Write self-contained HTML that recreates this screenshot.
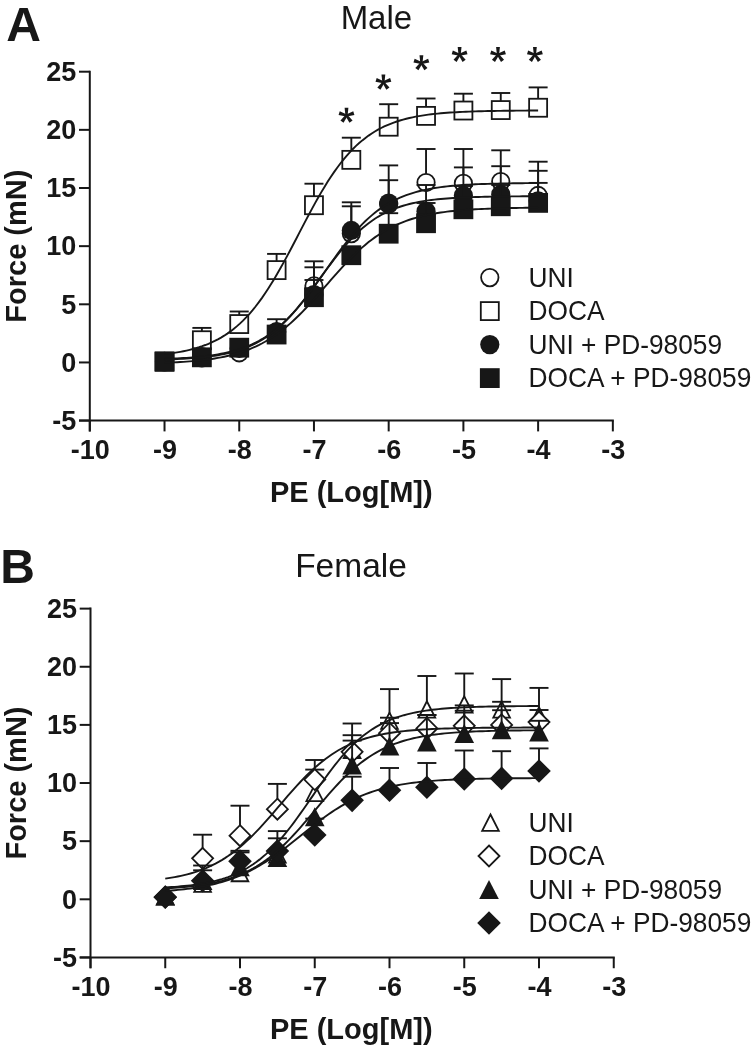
<!DOCTYPE html>
<html><head><meta charset="utf-8"><style>
html,body{margin:0;padding:0;background:#fff;}
body{width:753px;height:1050px;overflow:hidden;}
svg{display:block;filter:grayscale(1);}
text{font-family:"Liberation Sans",sans-serif;fill:#171717;}
.tk{font-size:27px;font-weight:bold;}
.ti{font-size:29px;font-weight:bold;}
.lg{font-size:27.5px;}
.tt{font-size:33px;}
.pl{font-size:48px;font-weight:bold;}
.st{font-size:44px;font-weight:bold;}
</style></head><body>
<svg width="753" height="1050" viewBox="0 0 753 1050">
<rect width="753" height="1050" fill="#fff"/>
<line x1="89.8" y1="70.7" x2="89.8" y2="431.4" stroke="#171717" stroke-width="2"/><line x1="79" y1="420.6" x2="613.84" y2="420.6" stroke="#171717" stroke-width="2"/><line x1="79" y1="420.6" x2="89.8" y2="420.6" stroke="#171717" stroke-width="2"/><text x="76.3" y="429.9" text-anchor="end" class="tk">-5</text><line x1="79" y1="362.45" x2="89.8" y2="362.45" stroke="#171717" stroke-width="2"/><text x="76.3" y="371.75" text-anchor="end" class="tk">0</text><line x1="79" y1="304.3" x2="89.8" y2="304.3" stroke="#171717" stroke-width="2"/><text x="76.3" y="313.6" text-anchor="end" class="tk">5</text><line x1="79" y1="246.15" x2="89.8" y2="246.15" stroke="#171717" stroke-width="2"/><text x="76.3" y="255.45" text-anchor="end" class="tk">10</text><line x1="79" y1="188" x2="89.8" y2="188" stroke="#171717" stroke-width="2"/><text x="76.3" y="197.3" text-anchor="end" class="tk">15</text><line x1="79" y1="129.85" x2="89.8" y2="129.85" stroke="#171717" stroke-width="2"/><text x="76.3" y="139.15" text-anchor="end" class="tk">20</text><line x1="79" y1="71.7" x2="89.8" y2="71.7" stroke="#171717" stroke-width="2"/><text x="76.3" y="81" text-anchor="end" class="tk">25</text><line x1="89.8" y1="420.6" x2="89.8" y2="431.4" stroke="#171717" stroke-width="2"/><text x="90.3" y="459.2" text-anchor="middle" class="tk">-10</text><line x1="164.52" y1="420.6" x2="164.52" y2="431.4" stroke="#171717" stroke-width="2"/><text x="165.02" y="459.2" text-anchor="middle" class="tk">-9</text><line x1="239.24" y1="420.6" x2="239.24" y2="431.4" stroke="#171717" stroke-width="2"/><text x="239.74" y="459.2" text-anchor="middle" class="tk">-8</text><line x1="313.96" y1="420.6" x2="313.96" y2="431.4" stroke="#171717" stroke-width="2"/><text x="314.46" y="459.2" text-anchor="middle" class="tk">-7</text><line x1="388.68" y1="420.6" x2="388.68" y2="431.4" stroke="#171717" stroke-width="2"/><text x="389.18" y="459.2" text-anchor="middle" class="tk">-6</text><line x1="463.4" y1="420.6" x2="463.4" y2="431.4" stroke="#171717" stroke-width="2"/><text x="463.9" y="459.2" text-anchor="middle" class="tk">-5</text><line x1="538.12" y1="420.6" x2="538.12" y2="431.4" stroke="#171717" stroke-width="2"/><text x="538.62" y="459.2" text-anchor="middle" class="tk">-4</text><line x1="612.84" y1="420.6" x2="612.84" y2="431.4" stroke="#171717" stroke-width="2"/><text x="613.34" y="459.2" text-anchor="middle" class="tk">-3</text><text transform="translate(26.2,246.15) rotate(-90)" text-anchor="middle" class="ti">Force (mN)</text><text x="351.3" y="502.2" text-anchor="middle" class="ti">PE (Log[M])</text><line x1="313.96" y1="285.92" x2="313.96" y2="261.3" stroke="#171717" stroke-width="1.9"/><line x1="304.46" y1="261.3" x2="323.46" y2="261.3" stroke="#171717" stroke-width="1.9"/><line x1="351.32" y1="233.59" x2="351.32" y2="202.3" stroke="#171717" stroke-width="1.9"/><line x1="341.82" y1="202.3" x2="360.82" y2="202.3" stroke="#171717" stroke-width="1.9"/><line x1="388.68" y1="204.28" x2="388.68" y2="165.4" stroke="#171717" stroke-width="1.9"/><line x1="379.18" y1="165.4" x2="398.18" y2="165.4" stroke="#171717" stroke-width="1.9"/><line x1="426.04" y1="182.53" x2="426.04" y2="149" stroke="#171717" stroke-width="1.9"/><line x1="416.54" y1="149" x2="435.54" y2="149" stroke="#171717" stroke-width="1.9"/><line x1="463.4" y1="183.35" x2="463.4" y2="149" stroke="#171717" stroke-width="1.9"/><line x1="453.9" y1="149" x2="472.9" y2="149" stroke="#171717" stroke-width="1.9"/><line x1="500.76" y1="181.6" x2="500.76" y2="150.3" stroke="#171717" stroke-width="1.9"/><line x1="491.26" y1="150.3" x2="510.26" y2="150.3" stroke="#171717" stroke-width="1.9"/><line x1="538.12" y1="195.44" x2="538.12" y2="161.7" stroke="#171717" stroke-width="1.9"/><line x1="528.62" y1="161.7" x2="547.62" y2="161.7" stroke="#171717" stroke-width="1.9"/><circle cx="164.52" cy="361.29" r="8.7" fill="#fff" stroke="#171717" stroke-width="1.8"/><circle cx="201.88" cy="357.8" r="8.7" fill="#fff" stroke="#171717" stroke-width="1.8"/><circle cx="239.24" cy="352.8" r="8.7" fill="#fff" stroke="#171717" stroke-width="1.8"/><circle cx="276.6" cy="332.21" r="8.7" fill="#fff" stroke="#171717" stroke-width="1.8"/><circle cx="313.96" cy="285.92" r="8.7" fill="#fff" stroke="#171717" stroke-width="1.8"/><circle cx="351.32" cy="233.59" r="8.7" fill="#fff" stroke="#171717" stroke-width="1.8"/><circle cx="388.68" cy="204.28" r="8.7" fill="#fff" stroke="#171717" stroke-width="1.8"/><circle cx="426.04" cy="182.53" r="8.7" fill="#fff" stroke="#171717" stroke-width="1.8"/><circle cx="463.4" cy="183.35" r="8.7" fill="#fff" stroke="#171717" stroke-width="1.8"/><circle cx="500.76" cy="181.6" r="8.7" fill="#fff" stroke="#171717" stroke-width="1.8"/><circle cx="538.12" cy="195.44" r="8.7" fill="#fff" stroke="#171717" stroke-width="1.8"/><line x1="201.88" y1="340.24" x2="201.88" y2="327.9" stroke="#171717" stroke-width="1.9"/><line x1="192.38" y1="327.9" x2="211.38" y2="327.9" stroke="#171717" stroke-width="1.9"/><line x1="239.24" y1="324.07" x2="239.24" y2="311.5" stroke="#171717" stroke-width="1.9"/><line x1="229.74" y1="311.5" x2="248.74" y2="311.5" stroke="#171717" stroke-width="1.9"/><line x1="276.6" y1="270.11" x2="276.6" y2="253.9" stroke="#171717" stroke-width="1.9"/><line x1="267.1" y1="253.9" x2="286.1" y2="253.9" stroke="#171717" stroke-width="1.9"/><line x1="313.96" y1="205.21" x2="313.96" y2="183.7" stroke="#171717" stroke-width="1.9"/><line x1="304.46" y1="183.7" x2="323.46" y2="183.7" stroke="#171717" stroke-width="1.9"/><line x1="351.32" y1="159.86" x2="351.32" y2="137.7" stroke="#171717" stroke-width="1.9"/><line x1="341.82" y1="137.7" x2="360.82" y2="137.7" stroke="#171717" stroke-width="1.9"/><line x1="388.68" y1="126.71" x2="388.68" y2="104.2" stroke="#171717" stroke-width="1.9"/><line x1="379.18" y1="104.2" x2="398.18" y2="104.2" stroke="#171717" stroke-width="1.9"/><line x1="426.04" y1="115.89" x2="426.04" y2="98.5" stroke="#171717" stroke-width="1.9"/><line x1="416.54" y1="98.5" x2="435.54" y2="98.5" stroke="#171717" stroke-width="1.9"/><line x1="463.4" y1="110.54" x2="463.4" y2="93.7" stroke="#171717" stroke-width="1.9"/><line x1="453.9" y1="93.7" x2="472.9" y2="93.7" stroke="#171717" stroke-width="1.9"/><line x1="500.76" y1="110.08" x2="500.76" y2="93" stroke="#171717" stroke-width="1.9"/><line x1="491.26" y1="93" x2="510.26" y2="93" stroke="#171717" stroke-width="1.9"/><line x1="538.12" y1="107.75" x2="538.12" y2="87.4" stroke="#171717" stroke-width="1.9"/><line x1="528.62" y1="87.4" x2="547.62" y2="87.4" stroke="#171717" stroke-width="1.9"/><rect x="155.52" y="352.29" width="18" height="18" fill="#fff" stroke="#171717" stroke-width="1.8"/><rect x="192.88" y="331.24" width="18" height="18" fill="#fff" stroke="#171717" stroke-width="1.8"/><rect x="230.24" y="315.07" width="18" height="18" fill="#fff" stroke="#171717" stroke-width="1.8"/><rect x="267.6" y="261.11" width="18" height="18" fill="#fff" stroke="#171717" stroke-width="1.8"/><rect x="304.96" y="196.21" width="18" height="18" fill="#fff" stroke="#171717" stroke-width="1.8"/><rect x="342.32" y="150.86" width="18" height="18" fill="#fff" stroke="#171717" stroke-width="1.8"/><rect x="379.68" y="117.71" width="18" height="18" fill="#fff" stroke="#171717" stroke-width="1.8"/><rect x="417.04" y="106.89" width="18" height="18" fill="#fff" stroke="#171717" stroke-width="1.8"/><rect x="454.4" y="101.54" width="18" height="18" fill="#fff" stroke="#171717" stroke-width="1.8"/><rect x="491.76" y="101.08" width="18" height="18" fill="#fff" stroke="#171717" stroke-width="1.8"/><rect x="529.12" y="98.75" width="18" height="18" fill="#fff" stroke="#171717" stroke-width="1.8"/><line x1="276.6" y1="331.63" x2="276.6" y2="319.2" stroke="#171717" stroke-width="1.9"/><line x1="267.1" y1="319.2" x2="286.1" y2="319.2" stroke="#171717" stroke-width="1.9"/><line x1="313.96" y1="294.65" x2="313.96" y2="267.3" stroke="#171717" stroke-width="1.9"/><line x1="304.46" y1="267.3" x2="323.46" y2="267.3" stroke="#171717" stroke-width="1.9"/><line x1="351.32" y1="230.45" x2="351.32" y2="206.3" stroke="#171717" stroke-width="1.9"/><line x1="341.82" y1="206.3" x2="360.82" y2="206.3" stroke="#171717" stroke-width="1.9"/><line x1="388.68" y1="203" x2="388.68" y2="180.2" stroke="#171717" stroke-width="1.9"/><line x1="379.18" y1="180.2" x2="398.18" y2="180.2" stroke="#171717" stroke-width="1.9"/><line x1="426.04" y1="211.26" x2="426.04" y2="185" stroke="#171717" stroke-width="1.9"/><line x1="416.54" y1="185" x2="435.54" y2="185" stroke="#171717" stroke-width="1.9"/><line x1="463.4" y1="195.44" x2="463.4" y2="167.4" stroke="#171717" stroke-width="1.9"/><line x1="453.9" y1="167.4" x2="472.9" y2="167.4" stroke="#171717" stroke-width="1.9"/><line x1="500.76" y1="194.4" x2="500.76" y2="166.2" stroke="#171717" stroke-width="1.9"/><line x1="491.26" y1="166.2" x2="510.26" y2="166.2" stroke="#171717" stroke-width="1.9"/><line x1="538.12" y1="200.79" x2="538.12" y2="170.8" stroke="#171717" stroke-width="1.9"/><line x1="528.62" y1="170.8" x2="547.62" y2="170.8" stroke="#171717" stroke-width="1.9"/><circle cx="164.52" cy="361.87" r="9.6" fill="#171717"/><circle cx="201.88" cy="356.63" r="9.6" fill="#171717"/><circle cx="239.24" cy="348.49" r="9.6" fill="#171717"/><circle cx="276.6" cy="331.63" r="9.6" fill="#171717"/><circle cx="313.96" cy="294.65" r="9.6" fill="#171717"/><circle cx="351.32" cy="230.45" r="9.6" fill="#171717"/><circle cx="388.68" cy="203" r="9.6" fill="#171717"/><circle cx="426.04" cy="211.26" r="9.6" fill="#171717"/><circle cx="463.4" cy="195.44" r="9.6" fill="#171717"/><circle cx="500.76" cy="194.4" r="9.6" fill="#171717"/><circle cx="538.12" cy="200.79" r="9.6" fill="#171717"/><line x1="313.96" y1="297.21" x2="313.96" y2="280" stroke="#171717" stroke-width="1.9"/><line x1="304.46" y1="280" x2="323.46" y2="280" stroke="#171717" stroke-width="1.9"/><line x1="388.68" y1="233.71" x2="388.68" y2="213.2" stroke="#171717" stroke-width="1.9"/><line x1="379.18" y1="213.2" x2="398.18" y2="213.2" stroke="#171717" stroke-width="1.9"/><line x1="426.04" y1="223.24" x2="426.04" y2="203" stroke="#171717" stroke-width="1.9"/><line x1="416.54" y1="203" x2="435.54" y2="203" stroke="#171717" stroke-width="1.9"/><line x1="463.4" y1="209.28" x2="463.4" y2="186" stroke="#171717" stroke-width="1.9"/><line x1="453.9" y1="186" x2="472.9" y2="186" stroke="#171717" stroke-width="1.9"/><line x1="500.76" y1="206.26" x2="500.76" y2="185" stroke="#171717" stroke-width="1.9"/><line x1="491.26" y1="185" x2="510.26" y2="185" stroke="#171717" stroke-width="1.9"/><line x1="538.12" y1="202.89" x2="538.12" y2="182.9" stroke="#171717" stroke-width="1.9"/><line x1="528.62" y1="182.9" x2="547.62" y2="182.9" stroke="#171717" stroke-width="1.9"/><rect x="154.62" y="351.97" width="19.8" height="19.8" fill="#171717"/><rect x="191.98" y="347.43" width="19.8" height="19.8" fill="#171717"/><rect x="229.34" y="337.78" width="19.8" height="19.8" fill="#171717"/><rect x="266.7" y="324.64" width="19.8" height="19.8" fill="#171717"/><rect x="304.06" y="287.31" width="19.8" height="19.8" fill="#171717"/><rect x="341.42" y="245.32" width="19.8" height="19.8" fill="#171717"/><rect x="378.78" y="223.81" width="19.8" height="19.8" fill="#171717"/><rect x="416.14" y="213.34" width="19.8" height="19.8" fill="#171717"/><rect x="453.5" y="199.38" width="19.8" height="19.8" fill="#171717"/><rect x="490.86" y="196.36" width="19.8" height="19.8" fill="#171717"/><rect x="528.22" y="192.99" width="19.8" height="19.8" fill="#171717"/><path d="M164.52,358.92 L167.66,358.81 L170.8,358.69 L173.94,358.56 L177.08,358.41 L180.22,358.25 L183.36,358.07 L186.5,357.87 L189.64,357.65 L192.78,357.41 L195.91,357.15 L199.05,356.86 L202.19,356.54 L205.33,356.18 L208.47,355.79 L211.61,355.36 L214.75,354.89 L217.89,354.37 L221.03,353.8 L224.17,353.18 L227.31,352.49 L230.45,351.74 L233.59,350.92 L236.73,350.02 L239.87,349.03 L243.01,347.95 L246.15,346.78 L249.29,345.5 L252.43,344.11 L255.57,342.61 L258.7,340.97 L261.84,339.2 L264.98,337.29 L268.12,335.23 L271.26,333.02 L274.4,330.65 L277.54,328.11 L280.68,325.4 L283.82,322.53 L286.96,319.48 L290.1,316.26 L293.24,312.87 L296.38,309.32 L299.52,305.62 L302.66,301.77 L305.8,297.78 L308.94,293.68 L312.08,289.47 L315.22,285.17 L318.36,280.8 L321.49,276.39 L324.63,271.96 L327.77,267.52 L330.91,263.1 L334.05,258.72 L337.19,254.4 L340.33,250.17 L343.47,246.03 L346.61,242.02 L349.75,238.13 L352.89,234.39 L356.03,230.8 L359.17,227.38 L362.31,224.12 L365.45,221.03 L368.59,218.11 L371.73,215.36 L374.87,212.78 L378.01,210.37 L381.15,208.12 L384.28,206.02 L387.42,204.08 L390.56,202.27 L393.7,200.61 L396.84,199.07 L399.98,197.65 L403.12,196.35 L406.26,195.15 L409.4,194.05 L412.54,193.04 L415.68,192.12 L418.82,191.28 L421.96,190.51 L425.1,189.81 L428.24,189.17 L431.38,188.59 L434.52,188.06 L437.66,187.57 L440.8,187.13 L443.94,186.73 L447.07,186.37 L450.21,186.04 L453.35,185.74 L456.49,185.47 L459.63,185.23 L462.77,185 L465.91,184.8 L469.05,184.62 L472.19,184.45 L475.33,184.3 L478.47,184.16 L481.61,184.04 L484.75,183.93 L487.89,183.83 L491.03,183.73 L494.17,183.65 L497.31,183.58 L500.45,183.51 L503.59,183.45 L506.73,183.39 L509.86,183.34 L513,183.29 L516.14,183.25 L519.28,183.22 L522.42,183.18 L525.56,183.15 L528.7,183.12 L531.84,183.1 L534.98,183.08 L538.12,183.05" fill="none" stroke="#171717" stroke-width="1.9"/><path d="M164.52,354.13 L167.66,353.76 L170.8,353.34 L173.94,352.88 L177.08,352.38 L180.22,351.83 L183.36,351.22 L186.5,350.56 L189.64,349.83 L192.78,349.03 L195.91,348.16 L199.05,347.2 L202.19,346.15 L205.33,345.01 L208.47,343.77 L211.61,342.41 L214.75,340.93 L217.89,339.32 L221.03,337.57 L224.17,335.67 L227.31,333.61 L230.45,331.39 L233.59,328.99 L236.73,326.4 L239.87,323.62 L243.01,320.63 L246.15,317.43 L249.29,314.02 L252.43,310.38 L255.57,306.52 L258.7,302.43 L261.84,298.11 L264.98,293.57 L268.12,288.82 L271.26,283.85 L274.4,278.69 L277.54,273.34 L280.68,267.82 L283.82,262.15 L286.96,256.36 L290.1,250.46 L293.24,244.49 L296.38,238.47 L299.52,232.43 L302.66,226.4 L305.8,220.4 L308.94,214.47 L312.08,208.63 L315.22,202.9 L318.36,197.32 L321.49,191.89 L324.63,186.64 L327.77,181.59 L330.91,176.74 L334.05,172.11 L337.19,167.69 L340.33,163.5 L343.47,159.54 L346.61,155.81 L349.75,152.29 L352.89,149 L356.03,145.92 L359.17,143.05 L362.31,140.38 L365.45,137.9 L368.59,135.6 L371.73,133.47 L374.87,131.5 L378.01,129.69 L381.15,128.02 L384.28,126.48 L387.42,125.07 L390.56,123.78 L393.7,122.59 L396.84,121.51 L399.98,120.51 L403.12,119.6 L406.26,118.77 L409.4,118.02 L412.54,117.32 L415.68,116.69 L418.82,116.12 L421.96,115.59 L425.1,115.12 L428.24,114.68 L431.38,114.29 L434.52,113.93 L437.66,113.6 L440.8,113.3 L443.94,113.03 L447.07,112.79 L450.21,112.56 L453.35,112.36 L456.49,112.18 L459.63,112.01 L462.77,111.86 L465.91,111.72 L469.05,111.59 L472.19,111.48 L475.33,111.38 L478.47,111.28 L481.61,111.2 L484.75,111.12 L487.89,111.05 L491.03,110.99 L494.17,110.93 L497.31,110.88 L500.45,110.83 L503.59,110.79 L506.73,110.75 L509.86,110.71 L513,110.68 L516.14,110.65 L519.28,110.62 L522.42,110.6 L525.56,110.58 L528.7,110.56 L531.84,110.54 L534.98,110.52 L538.12,110.51" fill="none" stroke="#171717" stroke-width="1.9"/><path d="M164.52,359.5 L167.66,359.41 L170.8,359.3 L173.94,359.18 L177.08,359.04 L180.22,358.89 L183.36,358.73 L186.5,358.54 L189.64,358.34 L192.78,358.11 L195.91,357.86 L199.05,357.59 L202.19,357.28 L205.33,356.94 L208.47,356.57 L211.61,356.16 L214.75,355.7 L217.89,355.19 L221.03,354.64 L224.17,354.02 L227.31,353.35 L230.45,352.6 L233.59,351.79 L236.73,350.89 L239.87,349.9 L243.01,348.82 L246.15,347.64 L249.29,346.35 L252.43,344.94 L255.57,343.4 L258.7,341.73 L261.84,339.92 L264.98,337.96 L268.12,335.85 L271.26,333.58 L274.4,331.14 L277.54,328.52 L280.68,325.74 L283.82,322.78 L286.96,319.65 L290.1,316.34 L293.24,312.88 L296.38,309.25 L299.52,305.48 L302.66,301.58 L305.8,297.56 L308.94,293.43 L312.08,289.23 L315.22,284.97 L318.36,280.67 L321.49,276.36 L324.63,272.06 L327.77,267.79 L330.91,263.58 L334.05,259.44 L337.19,255.41 L340.33,251.49 L343.47,247.7 L346.61,244.06 L349.75,240.58 L352.89,237.25 L356.03,234.1 L359.17,231.12 L362.31,228.32 L365.45,225.68 L368.59,223.22 L371.73,220.93 L374.87,218.8 L378.01,216.82 L381.15,214.99 L384.28,213.31 L387.42,211.76 L390.56,210.33 L393.7,209.03 L396.84,207.83 L399.98,206.74 L403.12,205.74 L406.26,204.84 L409.4,204.01 L412.54,203.26 L415.68,202.57 L418.82,201.95 L421.96,201.39 L425.1,200.88 L428.24,200.42 L431.38,200 L434.52,199.62 L437.66,199.28 L440.8,198.97 L443.94,198.69 L447.07,198.44 L450.21,198.21 L453.35,198 L456.49,197.82 L459.63,197.65 L462.77,197.5 L465.91,197.36 L469.05,197.24 L472.19,197.13 L475.33,197.03 L478.47,196.94 L481.61,196.86 L484.75,196.78 L487.89,196.72 L491.03,196.66 L494.17,196.6 L497.31,196.56 L500.45,196.51 L503.59,196.47 L506.73,196.44 L509.86,196.41 L513,196.38 L516.14,196.35 L519.28,196.33 L522.42,196.31 L525.56,196.29 L528.7,196.27 L531.84,196.26 L534.98,196.24 L538.12,196.23" fill="none" stroke="#171717" stroke-width="1.9"/><path d="M164.52,362.85 L167.66,362.72 L170.8,362.58 L173.94,362.42 L177.08,362.25 L180.22,362.07 L183.36,361.86 L186.5,361.64 L189.64,361.4 L192.78,361.13 L195.91,360.84 L199.05,360.52 L202.19,360.18 L205.33,359.8 L208.47,359.39 L211.61,358.94 L214.75,358.45 L217.89,357.92 L221.03,357.33 L224.17,356.7 L227.31,356.01 L230.45,355.27 L233.59,354.46 L236.73,353.58 L239.87,352.63 L243.01,351.6 L246.15,350.49 L249.29,349.28 L252.43,347.99 L255.57,346.6 L258.7,345.1 L261.84,343.5 L264.98,341.78 L268.12,339.95 L271.26,337.99 L274.4,335.91 L277.54,333.71 L280.68,331.38 L283.82,328.92 L286.96,326.33 L290.1,323.61 L293.24,320.77 L296.38,317.81 L299.52,314.73 L302.66,311.55 L305.8,308.28 L308.94,304.91 L312.08,301.47 L315.22,297.96 L318.36,294.4 L321.49,290.81 L324.63,287.19 L327.77,283.57 L330.91,279.96 L334.05,276.38 L337.19,272.83 L340.33,269.33 L343.47,265.91 L346.61,262.56 L349.75,259.3 L352.89,256.15 L356.03,253.1 L359.17,250.16 L362.31,247.35 L365.45,244.66 L368.59,242.1 L371.73,239.67 L374.87,237.36 L378.01,235.19 L381.15,233.13 L384.28,231.21 L387.42,229.4 L390.56,227.71 L393.7,226.13 L396.84,224.66 L399.98,223.29 L403.12,222.01 L406.26,220.83 L409.4,219.74 L412.54,218.73 L415.68,217.79 L418.82,216.93 L421.96,216.13 L425.1,215.4 L428.24,214.73 L431.38,214.1 L434.52,213.53 L437.66,213.01 L440.8,212.53 L443.94,212.09 L447.07,211.68 L450.21,211.31 L453.35,210.97 L456.49,210.66 L459.63,210.38 L462.77,210.12 L465.91,209.88 L469.05,209.66 L472.19,209.46 L475.33,209.28 L478.47,209.12 L481.61,208.96 L484.75,208.83 L487.89,208.7 L491.03,208.58 L494.17,208.48 L497.31,208.38 L500.45,208.29 L503.59,208.21 L506.73,208.14 L509.86,208.07 L513,208.01 L516.14,207.96 L519.28,207.91 L522.42,207.86 L525.56,207.82 L528.7,207.78 L531.84,207.74 L534.98,207.71 L538.12,207.68" fill="none" stroke="#171717" stroke-width="1.9"/><polygon points="347.6,115.5 348.4,107.8 344.6,107.8 345.4,115.5" fill="#171717"/><polygon points="346.84,116.55 354.41,114.93 353.24,111.31 346.16,114.45" fill="#171717"/><polygon points="345.61,116.15 349.49,122.85 352.56,120.61 347.39,114.85" fill="#171717"/><polygon points="345.61,114.85 340.44,120.61 343.51,122.85 347.39,116.15" fill="#171717"/><polygon points="346.84,114.45 339.76,111.31 338.59,114.93 346.16,116.55" fill="#171717"/><circle cx="346.5" cy="115.5" r="1.3" fill="#171717"/><polygon points="384.5,82.3 385.3,74.6 381.5,74.6 382.3,82.3" fill="#171717"/><polygon points="383.74,83.35 391.31,81.73 390.14,78.11 383.06,81.25" fill="#171717"/><polygon points="382.51,82.95 386.39,89.65 389.46,87.41 384.29,81.65" fill="#171717"/><polygon points="382.51,81.65 377.34,87.41 380.41,89.65 384.29,82.95" fill="#171717"/><polygon points="383.74,81.25 376.66,78.11 375.49,81.73 383.06,83.35" fill="#171717"/><circle cx="383.4" cy="82.3" r="1.3" fill="#171717"/><polygon points="422.5,63 423.3,55.3 419.5,55.3 420.3,63" fill="#171717"/><polygon points="421.74,64.05 429.31,62.43 428.14,58.81 421.06,61.95" fill="#171717"/><polygon points="420.51,63.65 424.39,70.35 427.46,68.11 422.29,62.35" fill="#171717"/><polygon points="420.51,62.35 415.34,68.11 418.41,70.35 422.29,63.65" fill="#171717"/><polygon points="421.74,61.95 414.66,58.81 413.49,62.43 421.06,64.05" fill="#171717"/><circle cx="421.4" cy="63" r="1.3" fill="#171717"/><polygon points="460.7,54.7 461.5,47 457.7,47 458.5,54.7" fill="#171717"/><polygon points="459.94,55.75 467.51,54.13 466.34,50.51 459.26,53.65" fill="#171717"/><polygon points="458.71,55.35 462.59,62.05 465.66,59.81 460.49,54.05" fill="#171717"/><polygon points="458.71,54.05 453.54,59.81 456.61,62.05 460.49,55.35" fill="#171717"/><polygon points="459.94,53.65 452.86,50.51 451.69,54.13 459.26,55.75" fill="#171717"/><circle cx="459.6" cy="54.7" r="1.3" fill="#171717"/><polygon points="499.1,54.7 499.9,47 496.1,47 496.9,54.7" fill="#171717"/><polygon points="498.34,55.75 505.91,54.13 504.74,50.51 497.66,53.65" fill="#171717"/><polygon points="497.11,55.35 500.99,62.05 504.06,59.81 498.89,54.05" fill="#171717"/><polygon points="497.11,54.05 491.94,59.81 495.01,62.05 498.89,55.35" fill="#171717"/><polygon points="498.34,53.65 491.26,50.51 490.09,54.13 497.66,55.75" fill="#171717"/><circle cx="498" cy="54.7" r="1.3" fill="#171717"/><polygon points="536,54.7 536.8,47 533,47 533.8,54.7" fill="#171717"/><polygon points="535.24,55.75 542.81,54.13 541.64,50.51 534.56,53.65" fill="#171717"/><polygon points="534.01,55.35 537.89,62.05 540.96,59.81 535.79,54.05" fill="#171717"/><polygon points="534.01,54.05 528.84,59.81 531.91,62.05 535.79,55.35" fill="#171717"/><polygon points="535.24,53.65 528.16,50.51 526.99,54.13 534.56,55.75" fill="#171717"/><circle cx="534.9" cy="54.7" r="1.3" fill="#171717"/><circle cx="489.8" cy="277.6" r="8.7" fill="#fff" stroke="#171717" stroke-width="1.8"/><text transform="translate(528.5,286.9) scale(0.956,1)" class="lg">UNI</text><rect x="480.8" y="302.1" width="18" height="18" fill="#fff" stroke="#171717" stroke-width="1.8"/><text transform="translate(528.5,320.4) scale(0.956,1)" class="lg">DOCA</text><circle cx="489.8" cy="344.6" r="9.6" fill="#171717"/><text transform="translate(528.5,353.9) scale(0.956,1)" class="lg">UNI + PD-98059</text><rect x="479.9" y="368.2" width="19.8" height="19.8" fill="#171717"/><text transform="translate(528.5,387.4) scale(0.956,1)" class="lg">DOCA + PD-98059</text><text x="6.2" y="40.8" class="pl">A</text><text x="376.4" y="28.8" text-anchor="middle" class="tt">Male</text><line x1="90.5" y1="607.62" x2="90.5" y2="968.23" stroke="#171717" stroke-width="2"/><line x1="79.7" y1="957.43" x2="614.75" y2="957.43" stroke="#171717" stroke-width="2"/><line x1="79.7" y1="957.43" x2="90.5" y2="957.43" stroke="#171717" stroke-width="2"/><text x="77" y="966.73" text-anchor="end" class="tk">-5</text><line x1="79.7" y1="899.3" x2="90.5" y2="899.3" stroke="#171717" stroke-width="2"/><text x="77" y="908.6" text-anchor="end" class="tk">0</text><line x1="79.7" y1="841.16" x2="90.5" y2="841.16" stroke="#171717" stroke-width="2"/><text x="77" y="850.46" text-anchor="end" class="tk">5</text><line x1="79.7" y1="783.03" x2="90.5" y2="783.03" stroke="#171717" stroke-width="2"/><text x="77" y="792.33" text-anchor="end" class="tk">10</text><line x1="79.7" y1="724.89" x2="90.5" y2="724.89" stroke="#171717" stroke-width="2"/><text x="77" y="734.19" text-anchor="end" class="tk">15</text><line x1="79.7" y1="666.76" x2="90.5" y2="666.76" stroke="#171717" stroke-width="2"/><text x="77" y="676.06" text-anchor="end" class="tk">20</text><line x1="79.7" y1="608.62" x2="90.5" y2="608.62" stroke="#171717" stroke-width="2"/><text x="77" y="617.92" text-anchor="end" class="tk">25</text><line x1="90.5" y1="957.43" x2="90.5" y2="968.23" stroke="#171717" stroke-width="2"/><text x="91" y="996.03" text-anchor="middle" class="tk">-10</text><line x1="165.25" y1="957.43" x2="165.25" y2="968.23" stroke="#171717" stroke-width="2"/><text x="165.75" y="996.03" text-anchor="middle" class="tk">-9</text><line x1="240" y1="957.43" x2="240" y2="968.23" stroke="#171717" stroke-width="2"/><text x="240.5" y="996.03" text-anchor="middle" class="tk">-8</text><line x1="314.75" y1="957.43" x2="314.75" y2="968.23" stroke="#171717" stroke-width="2"/><text x="315.25" y="996.03" text-anchor="middle" class="tk">-7</text><line x1="389.5" y1="957.43" x2="389.5" y2="968.23" stroke="#171717" stroke-width="2"/><text x="390" y="996.03" text-anchor="middle" class="tk">-6</text><line x1="464.25" y1="957.43" x2="464.25" y2="968.23" stroke="#171717" stroke-width="2"/><text x="464.75" y="996.03" text-anchor="middle" class="tk">-5</text><line x1="539" y1="957.43" x2="539" y2="968.23" stroke="#171717" stroke-width="2"/><text x="539.5" y="996.03" text-anchor="middle" class="tk">-4</text><line x1="613.75" y1="957.43" x2="613.75" y2="968.23" stroke="#171717" stroke-width="2"/><text x="614.25" y="996.03" text-anchor="middle" class="tk">-3</text><text transform="translate(26.2,783.03) rotate(-90)" text-anchor="middle" class="ti">Force (mN)</text><text x="351.3" y="1039.03" text-anchor="middle" class="ti">PE (Log[M])</text><line x1="314.75" y1="792.33" x2="314.75" y2="760" stroke="#171717" stroke-width="1.9"/><line x1="305.25" y1="760" x2="324.25" y2="760" stroke="#171717" stroke-width="1.9"/><line x1="352.12" y1="749.31" x2="352.12" y2="723.5" stroke="#171717" stroke-width="1.9"/><line x1="342.62" y1="723.5" x2="361.62" y2="723.5" stroke="#171717" stroke-width="1.9"/><line x1="389.5" y1="720.24" x2="389.5" y2="689.1" stroke="#171717" stroke-width="1.9"/><line x1="380" y1="689.1" x2="399" y2="689.1" stroke="#171717" stroke-width="1.9"/><line x1="426.88" y1="708.85" x2="426.88" y2="676" stroke="#171717" stroke-width="1.9"/><line x1="417.38" y1="676" x2="436.38" y2="676" stroke="#171717" stroke-width="1.9"/><line x1="464.25" y1="703.97" x2="464.25" y2="673.5" stroke="#171717" stroke-width="1.9"/><line x1="454.75" y1="673.5" x2="473.75" y2="673.5" stroke="#171717" stroke-width="1.9"/><line x1="501.62" y1="708.97" x2="501.62" y2="679.1" stroke="#171717" stroke-width="1.9"/><line x1="492.12" y1="679.1" x2="511.12" y2="679.1" stroke="#171717" stroke-width="1.9"/><line x1="539" y1="714.9" x2="539" y2="687.9" stroke="#171717" stroke-width="1.9"/><line x1="529.5" y1="687.9" x2="548.5" y2="687.9" stroke="#171717" stroke-width="1.9"/><polygon points="165.25,888.19 173.58,904.51 156.92,904.51" fill="#fff" stroke="#171717" stroke-width="1.8" stroke-linejoin="miter" stroke-miterlimit="10"/><polygon points="202.62,875.52 210.96,891.84 194.29,891.84" fill="#fff" stroke="#171717" stroke-width="1.8" stroke-linejoin="miter" stroke-miterlimit="10"/><polygon points="240,864.94 248.33,881.26 231.67,881.26" fill="#fff" stroke="#171717" stroke-width="1.8" stroke-linejoin="miter" stroke-miterlimit="10"/><polygon points="277.38,846.33 285.71,862.65 269.04,862.65" fill="#fff" stroke="#171717" stroke-width="1.8" stroke-linejoin="miter" stroke-miterlimit="10"/><polygon points="314.75,784.71 323.08,801.03 306.42,801.03" fill="#fff" stroke="#171717" stroke-width="1.8" stroke-linejoin="miter" stroke-miterlimit="10"/><polygon points="352.12,741.69 360.46,758.01 343.79,758.01" fill="#fff" stroke="#171717" stroke-width="1.8" stroke-linejoin="miter" stroke-miterlimit="10"/><polygon points="389.5,712.62 397.83,728.94 381.17,728.94" fill="#fff" stroke="#171717" stroke-width="1.8" stroke-linejoin="miter" stroke-miterlimit="10"/><polygon points="426.88,701.23 435.21,717.55 418.54,717.55" fill="#fff" stroke="#171717" stroke-width="1.8" stroke-linejoin="miter" stroke-miterlimit="10"/><polygon points="464.25,696.35 472.58,712.67 455.92,712.67" fill="#fff" stroke="#171717" stroke-width="1.8" stroke-linejoin="miter" stroke-miterlimit="10"/><polygon points="501.62,701.35 509.96,717.67 493.29,717.67" fill="#fff" stroke="#171717" stroke-width="1.8" stroke-linejoin="miter" stroke-miterlimit="10"/><polygon points="539,707.28 547.33,723.6 530.67,723.6" fill="#fff" stroke="#171717" stroke-width="1.8" stroke-linejoin="miter" stroke-miterlimit="10"/><line x1="202.62" y1="858.37" x2="202.62" y2="834.7" stroke="#171717" stroke-width="1.9"/><line x1="193.12" y1="834.7" x2="212.12" y2="834.7" stroke="#171717" stroke-width="1.9"/><line x1="240" y1="835.7" x2="240" y2="805.7" stroke="#171717" stroke-width="1.9"/><line x1="230.5" y1="805.7" x2="249.5" y2="805.7" stroke="#171717" stroke-width="1.9"/><line x1="277.38" y1="809.19" x2="277.38" y2="783.9" stroke="#171717" stroke-width="1.9"/><line x1="267.88" y1="783.9" x2="286.88" y2="783.9" stroke="#171717" stroke-width="1.9"/><line x1="314.75" y1="779.54" x2="314.75" y2="769.6" stroke="#171717" stroke-width="1.9"/><line x1="305.25" y1="769.6" x2="324.25" y2="769.6" stroke="#171717" stroke-width="1.9"/><line x1="352.12" y1="751.87" x2="352.12" y2="735.2" stroke="#171717" stroke-width="1.9"/><line x1="342.62" y1="735.2" x2="361.62" y2="735.2" stroke="#171717" stroke-width="1.9"/><line x1="389.5" y1="733.15" x2="389.5" y2="717.7" stroke="#171717" stroke-width="1.9"/><line x1="380" y1="717.7" x2="399" y2="717.7" stroke="#171717" stroke-width="1.9"/><line x1="426.88" y1="728.38" x2="426.88" y2="715" stroke="#171717" stroke-width="1.9"/><line x1="417.38" y1="715" x2="436.38" y2="715" stroke="#171717" stroke-width="1.9"/><line x1="464.25" y1="725.83" x2="464.25" y2="705.4" stroke="#171717" stroke-width="1.9"/><line x1="454.75" y1="705.4" x2="473.75" y2="705.4" stroke="#171717" stroke-width="1.9"/><line x1="501.62" y1="724.89" x2="501.62" y2="701.8" stroke="#171717" stroke-width="1.9"/><line x1="492.12" y1="701.8" x2="511.12" y2="701.8" stroke="#171717" stroke-width="1.9"/><line x1="539" y1="722.1" x2="539" y2="710" stroke="#171717" stroke-width="1.9"/><line x1="529.5" y1="710" x2="548.5" y2="710" stroke="#171717" stroke-width="1.9"/><polygon points="165.25,886.47 175.75,896.97 165.25,907.47 154.75,896.97" fill="#fff" stroke="#171717" stroke-width="1.8"/><polygon points="202.62,847.87 213.12,858.37 202.62,868.87 192.12,858.37" fill="#fff" stroke="#171717" stroke-width="1.8"/><polygon points="240,825.2 250.5,835.7 240,846.2 229.5,835.7" fill="#fff" stroke="#171717" stroke-width="1.8"/><polygon points="277.38,798.69 287.88,809.19 277.38,819.69 266.88,809.19" fill="#fff" stroke="#171717" stroke-width="1.8"/><polygon points="314.75,769.04 325.25,779.54 314.75,790.04 304.25,779.54" fill="#fff" stroke="#171717" stroke-width="1.8"/><polygon points="352.12,741.37 362.62,751.87 352.12,762.37 341.62,751.87" fill="#fff" stroke="#171717" stroke-width="1.8"/><polygon points="389.5,722.65 400,733.15 389.5,743.65 379,733.15" fill="#fff" stroke="#171717" stroke-width="1.8"/><polygon points="426.88,717.88 437.38,728.38 426.88,738.88 416.38,728.38" fill="#fff" stroke="#171717" stroke-width="1.8"/><polygon points="464.25,715.33 474.75,725.83 464.25,736.33 453.75,725.83" fill="#fff" stroke="#171717" stroke-width="1.8"/><polygon points="501.62,714.39 512.12,724.89 501.62,735.39 491.12,724.89" fill="#fff" stroke="#171717" stroke-width="1.8"/><polygon points="539,711.6 549.5,722.1 539,732.6 528.5,722.1" fill="#fff" stroke="#171717" stroke-width="1.8"/><line x1="202.62" y1="880.35" x2="202.62" y2="865.5" stroke="#171717" stroke-width="1.9"/><line x1="193.12" y1="865.5" x2="212.12" y2="865.5" stroke="#171717" stroke-width="1.9"/><line x1="240" y1="866.74" x2="240" y2="850.8" stroke="#171717" stroke-width="1.9"/><line x1="230.5" y1="850.8" x2="249.5" y2="850.8" stroke="#171717" stroke-width="1.9"/><line x1="277.38" y1="857.44" x2="277.38" y2="831.1" stroke="#171717" stroke-width="1.9"/><line x1="267.88" y1="831.1" x2="286.88" y2="831.1" stroke="#171717" stroke-width="1.9"/><line x1="314.75" y1="816.75" x2="314.75" y2="818.6" stroke="#171717" stroke-width="1.9"/><line x1="305.25" y1="818.6" x2="324.25" y2="818.6" stroke="#171717" stroke-width="1.9"/><line x1="352.12" y1="765.01" x2="352.12" y2="740.6" stroke="#171717" stroke-width="1.9"/><line x1="342.62" y1="740.6" x2="361.62" y2="740.6" stroke="#171717" stroke-width="1.9"/><line x1="389.5" y1="745.82" x2="389.5" y2="723.1" stroke="#171717" stroke-width="1.9"/><line x1="380" y1="723.1" x2="399" y2="723.1" stroke="#171717" stroke-width="1.9"/><line x1="426.88" y1="741.99" x2="426.88" y2="715" stroke="#171717" stroke-width="1.9"/><line x1="417.38" y1="715" x2="436.38" y2="715" stroke="#171717" stroke-width="1.9"/><line x1="464.25" y1="733.5" x2="464.25" y2="710.7" stroke="#171717" stroke-width="1.9"/><line x1="454.75" y1="710.7" x2="473.75" y2="710.7" stroke="#171717" stroke-width="1.9"/><line x1="501.62" y1="729.55" x2="501.62" y2="710.2" stroke="#171717" stroke-width="1.9"/><line x1="492.12" y1="710.2" x2="511.12" y2="710.2" stroke="#171717" stroke-width="1.9"/><line x1="539" y1="731.99" x2="539" y2="720.8" stroke="#171717" stroke-width="1.9"/><line x1="529.5" y1="720.8" x2="548.5" y2="720.8" stroke="#171717" stroke-width="1.9"/><polygon points="165.25,886.21 175.05,905.41 155.45,905.41" fill="#171717"/><polygon points="202.62,870.75 212.43,889.95 192.82,889.95" fill="#171717"/><polygon points="240,857.14 249.8,876.34 230.2,876.34" fill="#171717"/><polygon points="277.38,847.84 287.18,867.04 267.57,867.04" fill="#171717"/><polygon points="314.75,807.15 324.55,826.35 304.95,826.35" fill="#171717"/><polygon points="352.12,755.41 361.93,774.61 342.32,774.61" fill="#171717"/><polygon points="389.5,736.22 399.3,755.42 379.7,755.42" fill="#171717"/><polygon points="426.88,732.39 436.68,751.59 417.07,751.59" fill="#171717"/><polygon points="464.25,723.9 474.05,743.1 454.45,743.1" fill="#171717"/><polygon points="501.62,719.95 511.43,739.15 491.82,739.15" fill="#171717"/><polygon points="539,722.39 548.8,741.59 529.2,741.59" fill="#171717"/><line x1="202.62" y1="880.7" x2="202.62" y2="870.3" stroke="#171717" stroke-width="1.9"/><line x1="193.12" y1="870.3" x2="212.12" y2="870.3" stroke="#171717" stroke-width="1.9"/><line x1="240" y1="861.16" x2="240" y2="852.4" stroke="#171717" stroke-width="1.9"/><line x1="230.5" y1="852.4" x2="249.5" y2="852.4" stroke="#171717" stroke-width="1.9"/><line x1="277.38" y1="851.05" x2="277.38" y2="838.3" stroke="#171717" stroke-width="1.9"/><line x1="267.88" y1="838.3" x2="286.88" y2="838.3" stroke="#171717" stroke-width="1.9"/><line x1="352.12" y1="800.35" x2="352.12" y2="776.7" stroke="#171717" stroke-width="1.9"/><line x1="342.62" y1="776.7" x2="361.62" y2="776.7" stroke="#171717" stroke-width="1.9"/><line x1="389.5" y1="790.24" x2="389.5" y2="768" stroke="#171717" stroke-width="1.9"/><line x1="380" y1="768" x2="399" y2="768" stroke="#171717" stroke-width="1.9"/><line x1="426.88" y1="787.22" x2="426.88" y2="763" stroke="#171717" stroke-width="1.9"/><line x1="417.38" y1="763" x2="436.38" y2="763" stroke="#171717" stroke-width="1.9"/><line x1="464.25" y1="778.96" x2="464.25" y2="750.5" stroke="#171717" stroke-width="1.9"/><line x1="454.75" y1="750.5" x2="473.75" y2="750.5" stroke="#171717" stroke-width="1.9"/><line x1="501.62" y1="778.38" x2="501.62" y2="751.2" stroke="#171717" stroke-width="1.9"/><line x1="492.12" y1="751.2" x2="511.12" y2="751.2" stroke="#171717" stroke-width="1.9"/><line x1="539" y1="771.05" x2="539" y2="748.4" stroke="#171717" stroke-width="1.9"/><line x1="529.5" y1="748.4" x2="548.5" y2="748.4" stroke="#171717" stroke-width="1.9"/><polygon points="165.25,885.41 177.05,897.21 165.25,909.01 153.45,897.21" fill="#171717"/><polygon points="202.62,868.9 214.43,880.7 202.62,892.5 190.82,880.7" fill="#171717"/><polygon points="240,849.36 251.8,861.16 240,872.96 228.2,861.16" fill="#171717"/><polygon points="277.38,839.25 289.18,851.05 277.38,862.85 265.57,851.05" fill="#171717"/><polygon points="314.75,823.2 326.55,835 314.75,846.8 302.95,835" fill="#171717"/><polygon points="352.12,788.55 363.93,800.35 352.12,812.15 340.32,800.35" fill="#171717"/><polygon points="389.5,778.44 401.3,790.24 389.5,802.04 377.7,790.24" fill="#171717"/><polygon points="426.88,775.42 438.68,787.22 426.88,799.02 415.07,787.22" fill="#171717"/><polygon points="464.25,767.16 476.05,778.96 464.25,790.76 452.45,778.96" fill="#171717"/><polygon points="501.62,766.58 513.42,778.38 501.62,790.18 489.82,778.38" fill="#171717"/><polygon points="539,759.25 550.8,771.05 539,782.85 527.2,771.05" fill="#171717"/><path d="M165.25,887.44 L168.39,887.26 L171.53,887.06 L174.67,886.84 L177.81,886.59 L180.95,886.32 L184.09,886.02 L187.24,885.7 L190.38,885.34 L193.52,884.94 L196.66,884.51 L199.8,884.03 L202.94,883.51 L206.08,882.93 L209.22,882.3 L212.36,881.61 L215.5,880.85 L218.64,880.02 L221.78,879.11 L224.92,878.12 L228.07,877.03 L231.21,875.85 L234.35,874.57 L237.49,873.17 L240.63,871.65 L243.77,870.01 L246.91,868.23 L250.05,866.31 L253.19,864.24 L256.33,862.02 L259.47,859.63 L262.61,857.08 L265.75,854.36 L268.89,851.47 L272.04,848.4 L275.18,845.16 L278.32,841.74 L281.46,838.16 L284.6,834.42 L287.74,830.52 L290.88,826.48 L294.02,822.32 L297.16,818.04 L300.3,813.66 L303.44,809.21 L306.58,804.7 L309.72,800.16 L312.87,795.6 L316.01,791.05 L319.15,786.53 L322.29,782.07 L325.43,777.68 L328.57,773.39 L331.71,769.21 L334.85,765.15 L337.99,761.23 L341.13,757.47 L344.27,753.86 L347.41,750.42 L350.55,747.16 L353.7,744.06 L356.84,741.14 L359.98,738.4 L363.12,735.82 L366.26,733.41 L369.4,731.17 L372.54,729.08 L375.68,727.14 L378.82,725.34 L381.96,723.67 L385.1,722.14 L388.24,720.73 L391.38,719.42 L394.53,718.23 L397.67,717.13 L400.81,716.13 L403.95,715.21 L407.09,714.37 L410.23,713.6 L413.37,712.9 L416.51,712.26 L419.65,711.67 L422.79,711.14 L425.93,710.66 L429.07,710.22 L432.21,709.81 L435.36,709.45 L438.5,709.12 L441.64,708.82 L444.78,708.54 L447.92,708.3 L451.06,708.07 L454.2,707.87 L457.34,707.68 L460.48,707.51 L463.62,707.36 L466.76,707.22 L469.9,707.1 L473.04,706.98 L476.18,706.88 L479.33,706.79 L482.47,706.7 L485.61,706.63 L488.75,706.56 L491.89,706.49 L495.03,706.44 L498.17,706.38 L501.31,706.34 L504.45,706.3 L507.59,706.26 L510.73,706.22 L513.87,706.19 L517.01,706.16 L520.16,706.14 L523.3,706.11 L526.44,706.09 L529.58,706.07 L532.72,706.06 L535.86,706.04 L539,706.03" fill="none" stroke="#171717" stroke-width="1.9"/><path d="M165.25,878.63 L168.39,878.16 L171.53,877.65 L174.67,877.09 L177.81,876.48 L180.95,875.82 L184.09,875.1 L187.24,874.32 L190.38,873.47 L193.52,872.54 L196.66,871.54 L199.8,870.45 L202.94,869.28 L206.08,868.01 L209.22,866.65 L212.36,865.17 L215.5,863.59 L218.64,861.9 L221.78,860.08 L224.92,858.14 L228.07,856.07 L231.21,853.88 L234.35,851.55 L237.49,849.09 L240.63,846.5 L243.77,843.77 L246.91,840.92 L250.05,837.94 L253.19,834.84 L256.33,831.63 L259.47,828.32 L262.61,824.91 L265.75,821.43 L268.89,817.88 L272.04,814.27 L275.18,810.63 L278.32,806.96 L281.46,803.29 L284.6,799.63 L287.74,795.99 L290.88,792.39 L294.02,788.85 L297.16,785.38 L300.3,782 L303.44,778.71 L306.58,775.52 L309.72,772.45 L312.87,769.49 L316.01,766.66 L319.15,763.97 L322.29,761.4 L325.43,758.96 L328.57,756.66 L331.71,754.49 L334.85,752.45 L337.99,750.54 L341.13,748.75 L344.27,747.08 L347.41,745.52 L350.55,744.07 L353.7,742.72 L356.84,741.48 L359.98,740.32 L363.12,739.25 L366.26,738.27 L369.4,737.36 L372.54,736.52 L375.68,735.75 L378.82,735.04 L381.96,734.39 L385.1,733.79 L388.24,733.25 L391.38,732.74 L394.53,732.28 L397.67,731.86 L400.81,731.48 L403.95,731.13 L407.09,730.8 L410.23,730.51 L413.37,730.24 L416.51,730 L419.65,729.77 L422.79,729.57 L425.93,729.38 L429.07,729.21 L432.21,729.05 L435.36,728.91 L438.5,728.78 L441.64,728.67 L444.78,728.56 L447.92,728.46 L451.06,728.37 L454.2,728.29 L457.34,728.22 L460.48,728.15 L463.62,728.09 L466.76,728.03 L469.9,727.98 L473.04,727.94 L476.18,727.89 L479.33,727.85 L482.47,727.82 L485.61,727.79 L488.75,727.76 L491.89,727.73 L495.03,727.71 L498.17,727.69 L501.31,727.67 L504.45,727.65 L507.59,727.63 L510.73,727.62 L513.87,727.6 L517.01,727.59 L520.16,727.58 L523.3,727.57 L526.44,727.56 L529.58,727.55 L532.72,727.54 L535.86,727.54 L539,727.53" fill="none" stroke="#171717" stroke-width="1.9"/><path d="M165.25,888.38 L168.39,888.2 L171.53,888.01 L174.67,887.79 L177.81,887.56 L180.95,887.31 L184.09,887.03 L187.24,886.72 L190.38,886.39 L193.52,886.02 L196.66,885.62 L199.8,885.19 L202.94,884.71 L206.08,884.19 L209.22,883.63 L212.36,883.01 L215.5,882.34 L218.64,881.61 L221.78,880.82 L224.92,879.95 L228.07,879.02 L231.21,878.01 L234.35,876.91 L237.49,875.73 L240.63,874.45 L243.77,873.07 L246.91,871.59 L250.05,870 L253.19,868.29 L256.33,866.47 L259.47,864.52 L262.61,862.44 L265.75,860.23 L268.89,857.89 L272.04,855.41 L275.18,852.8 L278.32,850.06 L281.46,847.19 L284.6,844.19 L287.74,841.07 L290.88,837.84 L294.02,834.5 L297.16,831.06 L300.3,827.54 L303.44,823.94 L306.58,820.29 L309.72,816.6 L312.87,812.87 L316.01,809.14 L319.15,805.41 L322.29,801.7 L325.43,798.03 L328.57,794.4 L331.71,790.85 L334.85,787.37 L337.99,783.99 L341.13,780.7 L344.27,777.53 L347.41,774.47 L350.55,771.54 L353.7,768.74 L356.84,766.07 L359.98,763.53 L363.12,761.13 L366.26,758.86 L369.4,756.72 L372.54,754.72 L375.68,752.83 L378.82,751.07 L381.96,749.43 L385.1,747.9 L388.24,746.47 L391.38,745.15 L394.53,743.92 L397.67,742.79 L400.81,741.74 L403.95,740.77 L407.09,739.88 L410.23,739.05 L413.37,738.29 L416.51,737.6 L419.65,736.96 L422.79,736.37 L425.93,735.83 L429.07,735.33 L432.21,734.88 L435.36,734.46 L438.5,734.08 L441.64,733.74 L444.78,733.42 L447.92,733.13 L451.06,732.86 L454.2,732.62 L457.34,732.39 L460.48,732.19 L463.62,732.01 L466.76,731.84 L469.9,731.68 L473.04,731.54 L476.18,731.41 L479.33,731.29 L482.47,731.19 L485.61,731.09 L488.75,731 L491.89,730.92 L495.03,730.85 L498.17,730.78 L501.31,730.72 L504.45,730.66 L507.59,730.61 L510.73,730.56 L513.87,730.52 L517.01,730.48 L520.16,730.45 L523.3,730.41 L526.44,730.38 L529.58,730.36 L532.72,730.33 L535.86,730.31 L539,730.29" fill="none" stroke="#171717" stroke-width="1.9"/><path d="M165.25,890.96 L168.39,890.73 L171.53,890.48 L174.67,890.21 L177.81,889.91 L180.95,889.59 L184.09,889.24 L187.24,888.86 L190.38,888.45 L193.52,888.01 L196.66,887.52 L199.8,887 L202.94,886.44 L206.08,885.83 L209.22,885.18 L212.36,884.47 L215.5,883.71 L218.64,882.89 L221.78,882.01 L224.92,881.07 L228.07,880.06 L231.21,878.98 L234.35,877.83 L237.49,876.6 L240.63,875.29 L243.77,873.9 L246.91,872.43 L250.05,870.88 L253.19,869.24 L256.33,867.51 L259.47,865.7 L262.61,863.81 L265.75,861.83 L268.89,859.77 L272.04,857.64 L275.18,855.44 L278.32,853.17 L281.46,850.83 L284.6,848.45 L287.74,846.01 L290.88,843.54 L294.02,841.04 L297.16,838.52 L300.3,835.99 L303.44,833.46 L306.58,830.94 L309.72,828.44 L312.87,825.96 L316.01,823.52 L319.15,821.13 L322.29,818.78 L325.43,816.5 L328.57,814.29 L331.71,812.14 L334.85,810.07 L337.99,808.08 L341.13,806.17 L344.27,804.34 L347.41,802.6 L350.55,800.95 L353.7,799.38 L356.84,797.89 L359.98,796.49 L363.12,795.17 L366.26,793.93 L369.4,792.76 L372.54,791.67 L375.68,790.65 L378.82,789.69 L381.96,788.8 L385.1,787.97 L388.24,787.2 L391.38,786.49 L394.53,785.82 L397.67,785.21 L400.81,784.64 L403.95,784.11 L407.09,783.62 L410.23,783.17 L413.37,782.75 L416.51,782.37 L419.65,782.02 L422.79,781.69 L425.93,781.39 L429.07,781.11 L432.21,780.86 L435.36,780.62 L438.5,780.41 L441.64,780.21 L444.78,780.03 L447.92,779.86 L451.06,779.7 L454.2,779.56 L457.34,779.43 L460.48,779.31 L463.62,779.21 L466.76,779.1 L469.9,779.01 L473.04,778.93 L476.18,778.85 L479.33,778.78 L482.47,778.71 L485.61,778.65 L488.75,778.6 L491.89,778.55 L495.03,778.5 L498.17,778.46 L501.31,778.42 L504.45,778.39 L507.59,778.35 L510.73,778.32 L513.87,778.3 L517.01,778.27 L520.16,778.25 L523.3,778.23 L526.44,778.21 L529.58,778.19 L532.72,778.17 L535.86,778.16 L539,778.15" fill="none" stroke="#171717" stroke-width="1.9"/><polygon points="490.5,814.48 498.83,830.8 482.17,830.8" fill="#fff" stroke="#171717" stroke-width="1.8" stroke-linejoin="miter" stroke-miterlimit="10"/><text transform="translate(528.5,831.8) scale(0.956,1)" class="lg">UNI</text><polygon points="489,845.5 499.5,856 489,866.5 478.5,856" fill="#fff" stroke="#171717" stroke-width="1.8"/><text transform="translate(528.5,865.3) scale(0.956,1)" class="lg">DOCA</text><polygon points="489,879.9 498.8,899.1 479.2,899.1" fill="#171717"/><text transform="translate(528.5,898.8) scale(0.956,1)" class="lg">UNI + PD-98059</text><polygon points="489,911.2 500.8,923 489,934.8 477.2,923" fill="#171717"/><text transform="translate(528.5,932.3) scale(0.956,1)" class="lg">DOCA + PD-98059</text><text x="0.3" y="583.4" class="pl">B</text><text x="351" y="577" text-anchor="middle" class="tt" style="font-size:33.5px">Female</text>
</svg>
</body></html>
